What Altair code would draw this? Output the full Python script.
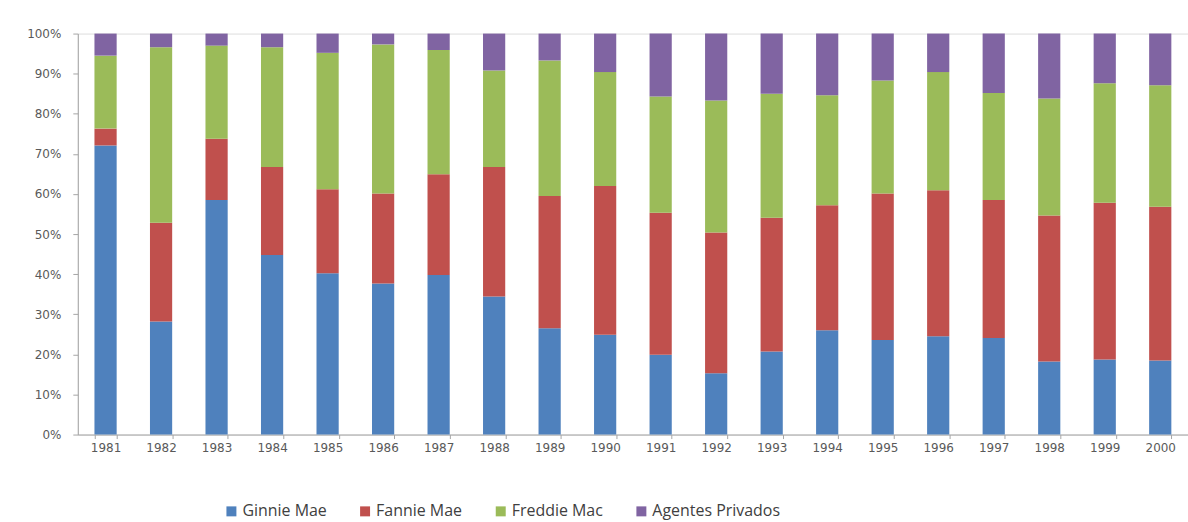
import altair as alt
import pandas as pd

# Share of mortgage-backed securities issuance by issuer, 1981-2000 (%)
years = [str(y) for y in range(1981, 2001)]
series = ["Ginnie Mae", "Fannie Mae", "Freddie Mac", "Agentes Privados"]
colors = ["#4F81BD", "#C0504D", "#9BBB59", "#8064A2"]

ginnie = [72.1, 28.2, 58.5, 44.8, 40.2, 37.7, 39.8, 34.4, 26.5, 24.9,
          19.9, 15.3, 20.7, 26.0, 23.6, 24.5, 24.1, 18.2, 18.7, 18.5]
fannie = [4.2, 24.6, 15.3, 21.9, 21.0, 22.4, 25.1, 32.3, 33.0, 37.1,
          35.4, 35.1, 33.4, 31.2, 36.5, 36.4, 34.4, 36.4, 39.1, 38.3]
freddie = [18.2, 43.8, 23.2, 29.9, 34.0, 37.2, 31.0, 24.1, 33.8, 28.4,
           29.0, 32.9, 30.9, 27.4, 28.2, 29.5, 26.7, 29.2, 29.8, 30.3]
privados = [5.5, 3.4, 3.0, 3.4, 4.8, 2.7, 4.1, 9.2, 6.7, 9.6,
            15.7, 16.7, 15.0, 15.4, 11.7, 9.6, 14.8, 16.2, 12.4, 12.9]

rows = []
for i, year in enumerate(years):
    for k, (name, vals) in enumerate(zip(series, [ginnie, fannie, freddie, privados])):
        rows.append({"year": year, "issuer": name, "share": vals[i], "rank": k})
df = pd.DataFrame(rows)

axis_font = "DejaVu Sans"
legend_font = "Open Sans"

chart = (
    alt.Chart(df)
    .mark_bar()
    .encode(
        x=alt.X(
            "year:N",
            title=None,
            sort=years,
            scale=alt.Scale(paddingInner=0.6, paddingOuter=0.3),
            axis=alt.Axis(
                labelAngle=0,
                tickBand="extent",
                tickSize=4,
                labelPadding=4,
                domainColor="#A6A6A6",
                tickColor="#A6A6A6",
                labelColor="#595959",
                labelFontSize=12,
                labelFont=axis_font,
                grid=False,
            ),
        ),
        y=alt.Y(
            "share:Q",
            stack="normalize",
            title=None,
            scale=alt.Scale(domain=[0, 1], nice=False),
            axis=alt.Axis(
                format=".0%",
                values=[i / 10 for i in range(11)],
                tickSize=5,
                labelPadding=12,
                domainColor="#A6A6A6",
                tickColor="#A6A6A6",
                labelColor="#595959",
                labelFontSize=12,
                labelFont=axis_font,
                grid=False,
            ),
        ),
        color=alt.Color(
            "issuer:N",
            scale=alt.Scale(domain=series, range=colors),
            legend=alt.Legend(
                title=None,
                orient="none",
                direction="horizontal",
                legendX=146,
                legendY=471,
                symbolType="square",
                symbolSize=100,
                symbolStrokeWidth=0,
                labelFontSize=16,
                labelFont=legend_font,
                labelColor="#404040",
                labelOffset=3,
                columnPadding=30,
            ),
        ),
        order=alt.Order("rank:Q", sort="ascending"),
    )
    .properties(
        width=1113,
        height=402,
        padding={"left": 78, "top": 33, "right": 0, "bottom": 87},
        autosize=alt.AutoSizeParams(type="none"),
    )
    .configure_view(stroke=None)
    .configure(background="white")
)

chart.save("out.html", embed_options={"renderer": "svg", "actions": False})
